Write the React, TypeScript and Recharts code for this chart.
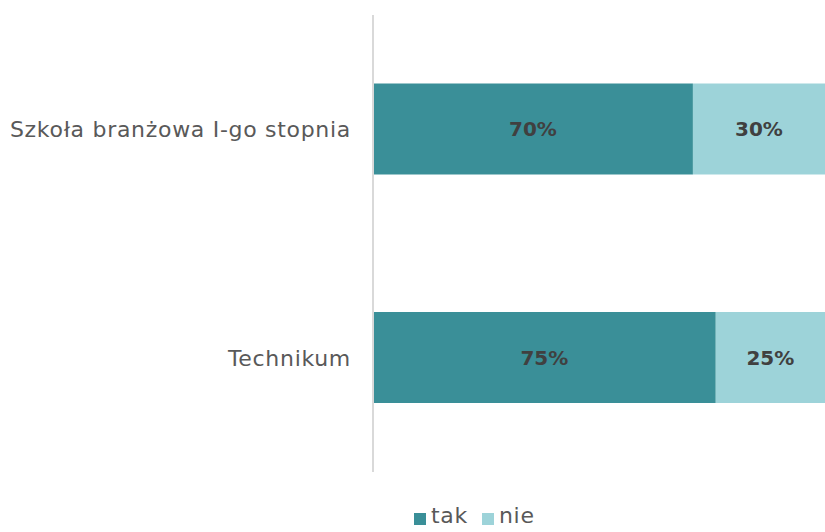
import React from 'react';
import { BarChart, Bar, XAxis, YAxis, LabelList, Legend } from 'recharts';

const categories = ['Szkoła branżowa I-go stopnia', 'Technikum'];
const takValues = [70, 75];
const nieValues = [30, 25];

const TAK_COLOR = '#3a8f98';
const NIE_COLOR = '#9dd3d9';

const data = categories.map((name, i) => ({
  name,
  tak: takValues[i],
  nie: nieValues[i],
}));

const fmt = (v: any) => `${v}%`;

const LegendContent: React.FC = () => {
  const items = [
    { label: 'tak', color: TAK_COLOR },
    { label: 'nie', color: NIE_COLOR },
  ];
  return (
    <div style={{ display: 'flex', fontFamily: 'DejaVu Sans', fontSize: 22, color: '#595959', letterSpacing: 0.7 }}>
      {items.map((it) => (
        <div key={it.label} style={{ display: 'flex', alignItems: 'center', marginRight: 14 }}>
          <span style={{ width: 12, height: 12, background: it.color, display: 'inline-block', marginRight: 5, marginTop: 6 }} />
          <span>{it.label}</span>
        </div>
      ))}
    </div>
  );
};

const App: React.FC = () => {
  return (
    <div style={{ position: 'absolute', left: 0, top: 0 }}>
      <BarChart
        width={825}
        height={532}
        data={data}
        layout="vertical"
        margin={{ top: 15, right: 0, bottom: 35, left: 0 }}
        barCategoryGap="30%"
      >
        <XAxis type="number" domain={[0, 98.9]} allowDataOverflow hide />
        <YAxis
          type="category"
          dataKey="name"
          width={373}
          tickLine={false}
          tickSize={0}
          tickMargin={22}
          axisLine={{ stroke: '#d9d9d9', strokeWidth: 2 }}
          tick={{ fill: '#595959', fontSize: 22, fontFamily: 'DejaVu Sans', letterSpacing: 0.7 }}
        />
        <Legend
          verticalAlign="bottom"
          content={<LegendContent />}
          wrapperStyle={{ position: 'absolute', left: 414, top: 503, width: 200, bottom: 'auto' }}
        />
        <Bar dataKey="tak" stackId="a" fill={TAK_COLOR} isAnimationActive={false}>
          <LabelList dataKey="tak" position="center" formatter={fmt} fill="#404040" fontSize={20} fontWeight="bold" fontFamily="DejaVu Sans" />
        </Bar>
        <Bar dataKey="nie" stackId="a" fill={NIE_COLOR} isAnimationActive={false}>
          <LabelList dataKey="nie" position="center" formatter={fmt} fill="#404040" fontSize={20} fontWeight="bold" fontFamily="DejaVu Sans" />
        </Bar>
      </BarChart>
    </div>
  );
};

export default App;
